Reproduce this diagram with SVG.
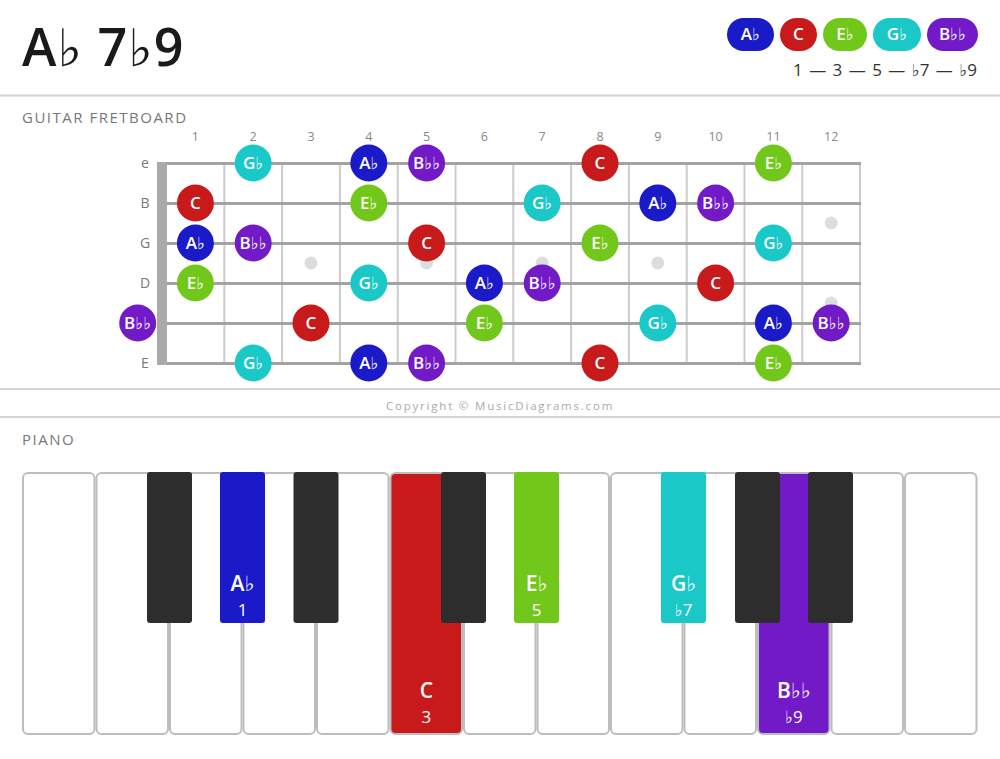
<svg xmlns="http://www.w3.org/2000/svg" width="1000" height="759" viewBox="0 0 1000 759">
<style>
text{font-family:"Open Sans","Noto Sans","DejaVu Sans",sans-serif}
.rule{stroke:#d4d4d4;stroke-width:2}
.hdr{font-size:15px;fill:#777;letter-spacing:1.5px}
.fn{font-size:12.5px;fill:#888;text-anchor:middle}
.sl{font-size:14px;fill:#777;text-anchor:middle}
.str{stroke:#a3a3a3;stroke-width:3}
.fret{stroke:#cccccc;stroke-width:2}
.dot{fill:#dddddd}
.nl{font-size:17px;font-weight:600;fill:#fff;text-anchor:middle}
.wk{fill:#fff;stroke:#bdbdbd;stroke-width:2}
.bk{fill:#2d2d2d}
.ab{fill:#1a1ac8}.c{fill:#c81a1a}.eb{fill:#72c81a}.gb{fill:#1ac8c8}.bbb{fill:#721ac8}
.pn{font-size:21px;font-weight:600;fill:#fff;text-anchor:middle}
.pd{font-size:17px;fill:#fff;text-anchor:middle}
</style>

<g id="title">
<text x="22" y="66" font-size="52" font-weight="600" fill="#1a1a1a" letter-spacing="1">A♭ 7♭9</text>
</g>

<g id="legend">
<rect class="ab" x="727" y="18" width="47" height="33" rx="16.5"/>
<text class="nl" x="750.5" y="40" font-size="16">A♭</text>
<rect class="c" x="780" y="18" width="37" height="33" rx="16.5"/>
<text class="nl" x="798.5" y="40" font-size="16">C</text>
<rect class="eb" x="823" y="18" width="44" height="33" rx="16.5"/>
<text class="nl" x="845" y="40" font-size="16">E♭</text>
<rect class="gb" x="873" y="18" width="48" height="33" rx="16.5"/>
<text class="nl" x="897" y="40" font-size="16">G♭</text>
<rect class="bbb" x="927" y="18" width="51" height="33" rx="16.5"/>
<text class="nl" x="952.5" y="40" font-size="16">B♭♭</text>
<text x="977" y="76" font-size="17" fill="#333" text-anchor="end" word-spacing="2">1 — 3 — 5 — ♭7 — ♭9</text>
</g>

<line class="rule" x1="0" y1="95.5" x2="1000" y2="95.5"/>
<text class="hdr" x="22" y="123">GUITAR FRETBOARD</text>

<g id="fretboard">
<g id="fret-numbers">
<text class="fn" x="195.4" y="141">1</text>
<text class="fn" x="253.2" y="141">2</text>
<text class="fn" x="311" y="141">3</text>
<text class="fn" x="368.8" y="141">4</text>
<text class="fn" x="426.6" y="141">5</text>
<text class="fn" x="484.4" y="141">6</text>
<text class="fn" x="542.2" y="141">7</text>
<text class="fn" x="600" y="141">8</text>
<text class="fn" x="657.8" y="141">9</text>
<text class="fn" x="715.6" y="141">10</text>
<text class="fn" x="773.4" y="141">11</text>
<text class="fn" x="831.2" y="141">12</text>
</g>
<g id="string-labels">
<text class="sl" x="145" y="168">e</text>
<text class="sl" x="145" y="208">B</text>
<text class="sl" x="145" y="248">G</text>
<text class="sl" x="145" y="288">D</text>
<text class="sl" x="145" y="368">E</text>
</g>
<g id="inlays">
<circle class="dot" cx="311" cy="263" r="6.5"/>
<circle class="dot" cx="426.6" cy="263" r="6.5"/>
<circle class="dot" cx="542.2" cy="263" r="6.5"/>
<circle class="dot" cx="657.8" cy="263" r="6.5"/>
<circle class="dot" cx="831.2" cy="223" r="6.5"/>
<circle class="dot" cx="831.2" cy="303" r="6.5"/>
</g>
<g id="frets">
<line class="fret" x1="224.3" y1="163" x2="224.3" y2="363"/>
<line class="fret" x1="282.1" y1="163" x2="282.1" y2="363"/>
<line class="fret" x1="339.9" y1="163" x2="339.9" y2="363"/>
<line class="fret" x1="397.7" y1="163" x2="397.7" y2="363"/>
<line class="fret" x1="455.5" y1="163" x2="455.5" y2="363"/>
<line class="fret" x1="513.3" y1="163" x2="513.3" y2="363"/>
<line class="fret" x1="571.1" y1="163" x2="571.1" y2="363"/>
<line class="fret" x1="628.9" y1="163" x2="628.9" y2="363"/>
<line class="fret" x1="686.7" y1="163" x2="686.7" y2="363"/>
<line class="fret" x1="744.5" y1="163" x2="744.5" y2="363"/>
<line class="fret" x1="802.3" y1="163" x2="802.3" y2="363"/>
<line class="fret" x1="860" y1="163" x2="860" y2="363"/>
</g>
<g id="strings">
<line class="str" x1="157" y1="163.5" x2="861" y2="163.5"/>
<line class="str" x1="157" y1="203.5" x2="861" y2="203.5"/>
<line class="str" x1="157" y1="243.5" x2="861" y2="243.5"/>
<line class="str" x1="157" y1="283.5" x2="861" y2="283.5"/>
<line class="str" x1="157" y1="323.5" x2="861" y2="323.5"/>
<line class="str" x1="157" y1="363.5" x2="861" y2="363.5"/>
</g>
<rect id="nut" x="157" y="162" width="10" height="203" fill="#aaaaaa"/>

<g id="notes-e">
<circle class="gb" cx="253.2" cy="163" r="18.5"/><text class="nl" x="253.2" y="169">G♭</text>
<circle class="ab" cx="368.8" cy="163" r="18.5"/><text class="nl" x="368.8" y="169">A♭</text>
<circle class="bbb" cx="426.6" cy="163" r="18.5"/><text class="nl" x="426.6" y="169">B♭♭</text>
<circle class="c" cx="600" cy="163" r="18.5"/><text class="nl" x="600" y="169">C</text>
<circle class="eb" cx="773.4" cy="163" r="18.5"/><text class="nl" x="773.4" y="169">E♭</text>
</g>
<g id="notes-B">
<circle class="c" cx="195.4" cy="203" r="18.5"/><text class="nl" x="195.4" y="209">C</text>
<circle class="eb" cx="368.8" cy="203" r="18.5"/><text class="nl" x="368.8" y="209">E♭</text>
<circle class="gb" cx="542.2" cy="203" r="18.5"/><text class="nl" x="542.2" y="209">G♭</text>
<circle class="ab" cx="657.8" cy="203" r="18.5"/><text class="nl" x="657.8" y="209">A♭</text>
<circle class="bbb" cx="715.6" cy="203" r="18.5"/><text class="nl" x="715.6" y="209">B♭♭</text>
</g>
<g id="notes-G">
<circle class="ab" cx="195.4" cy="243" r="18.5"/><text class="nl" x="195.4" y="249">A♭</text>
<circle class="bbb" cx="253.2" cy="243" r="18.5"/><text class="nl" x="253.2" y="249">B♭♭</text>
<circle class="c" cx="426.6" cy="243" r="18.5"/><text class="nl" x="426.6" y="249">C</text>
<circle class="eb" cx="600" cy="243" r="18.5"/><text class="nl" x="600" y="249">E♭</text>
<circle class="gb" cx="773.4" cy="243" r="18.5"/><text class="nl" x="773.4" y="249">G♭</text>
</g>
<g id="notes-D">
<circle class="eb" cx="195.4" cy="283" r="18.5"/><text class="nl" x="195.4" y="289">E♭</text>
<circle class="gb" cx="368.8" cy="283" r="18.5"/><text class="nl" x="368.8" y="289">G♭</text>
<circle class="ab" cx="484.4" cy="283" r="18.5"/><text class="nl" x="484.4" y="289">A♭</text>
<circle class="bbb" cx="542.2" cy="283" r="18.5"/><text class="nl" x="542.2" y="289">B♭♭</text>
<circle class="c" cx="715.6" cy="283" r="18.5"/><text class="nl" x="715.6" y="289">C</text>
</g>
<g id="notes-A">
<circle class="bbb" cx="137.7" cy="323" r="18.5"/><text class="nl" x="137.7" y="329">B♭♭</text>
<circle class="c" cx="311" cy="323" r="18.5"/><text class="nl" x="311" y="329">C</text>
<circle class="eb" cx="484.4" cy="323" r="18.5"/><text class="nl" x="484.4" y="329">E♭</text>
<circle class="gb" cx="657.8" cy="323" r="18.5"/><text class="nl" x="657.8" y="329">G♭</text>
<circle class="ab" cx="773.4" cy="323" r="18.5"/><text class="nl" x="773.4" y="329">A♭</text>
<circle class="bbb" cx="831.2" cy="323" r="18.5"/><text class="nl" x="831.2" y="329">B♭♭</text>
</g>
<g id="notes-E">
<circle class="gb" cx="253.2" cy="363" r="18.5"/><text class="nl" x="253.2" y="369">G♭</text>
<circle class="ab" cx="368.8" cy="363" r="18.5"/><text class="nl" x="368.8" y="369">A♭</text>
<circle class="bbb" cx="426.6" cy="363" r="18.5"/><text class="nl" x="426.6" y="369">B♭♭</text>
<circle class="c" cx="600" cy="363" r="18.5"/><text class="nl" x="600" y="369">C</text>
<circle class="eb" cx="773.4" cy="363" r="18.5"/><text class="nl" x="773.4" y="369">E♭</text>
</g>
</g>

<line class="rule" x1="0" y1="389" x2="1000" y2="389"/>
<text x="500" y="410" font-size="11.5" fill="#aaa" text-anchor="middle" letter-spacing="1.8">Copyright © MusicDiagrams.com</text>
<line class="rule" x1="0" y1="417" x2="1000" y2="417"/>
<text class="hdr" x="22" y="445">PIANO</text>

<g id="piano">
<g id="white-keys">
<rect class="wk" x="23" y="473" width="71.5" height="261" rx="5"/>
<rect class="wk" x="96.5" y="473" width="71.5" height="261" rx="5"/>
<rect class="wk" x="170" y="473" width="71.5" height="261" rx="5"/>
<rect class="wk" x="243.5" y="473" width="71.5" height="261" rx="5"/>
<rect class="wk" x="317" y="473" width="71.5" height="261" rx="5"/>
<rect class="wk c" x="390.5" y="473" width="71.5" height="261" rx="5"/>
<rect class="wk" x="464" y="473" width="71.5" height="261" rx="5"/>
<rect class="wk" x="537.5" y="473" width="71.5" height="261" rx="5"/>
<rect class="wk" x="611" y="473" width="71.5" height="261" rx="5"/>
<rect class="wk" x="684.5" y="473" width="71.5" height="261" rx="5"/>
<rect class="wk bbb" x="758" y="473" width="71.5" height="261" rx="5"/>
<rect class="wk" x="831.5" y="473" width="71.5" height="261" rx="5"/>
<rect class="wk" x="905" y="473" width="71.5" height="261" rx="5"/>
</g>
<g id="black-keys">
<rect class="bk" x="147" y="472" width="45" height="151" rx="3"/>
<rect class="ab" x="220" y="472" width="45" height="151" rx="3"/>
<rect class="bk" x="293.5" y="472" width="45" height="151" rx="3"/>
<rect class="bk" x="441" y="472" width="45" height="151" rx="3"/>
<rect class="eb" x="514" y="472" width="45" height="151" rx="3"/>
<rect class="gb" x="661" y="472" width="45" height="151" rx="3"/>
<rect class="bk" x="735" y="472" width="45" height="151" rx="3"/>
<rect class="bk" x="808" y="472" width="45" height="151" rx="3"/>
</g>
<g id="key-labels">
<text class="pn" x="242.5" y="591">A♭</text><text class="pd" x="242.5" y="616">1</text>
<text class="pn" x="426.3" y="698">C</text><text class="pd" x="426.3" y="723">3</text>
<text class="pn" x="536.5" y="591">E♭</text><text class="pd" x="536.5" y="616">5</text>
<text class="pn" x="683.5" y="591">G♭</text><text class="pd" x="683.5" y="616">♭7</text>
<text class="pn" x="793.8" y="698">B♭♭</text><text class="pd" x="793.8" y="723">♭9</text>
</g>
</g>
</svg>
